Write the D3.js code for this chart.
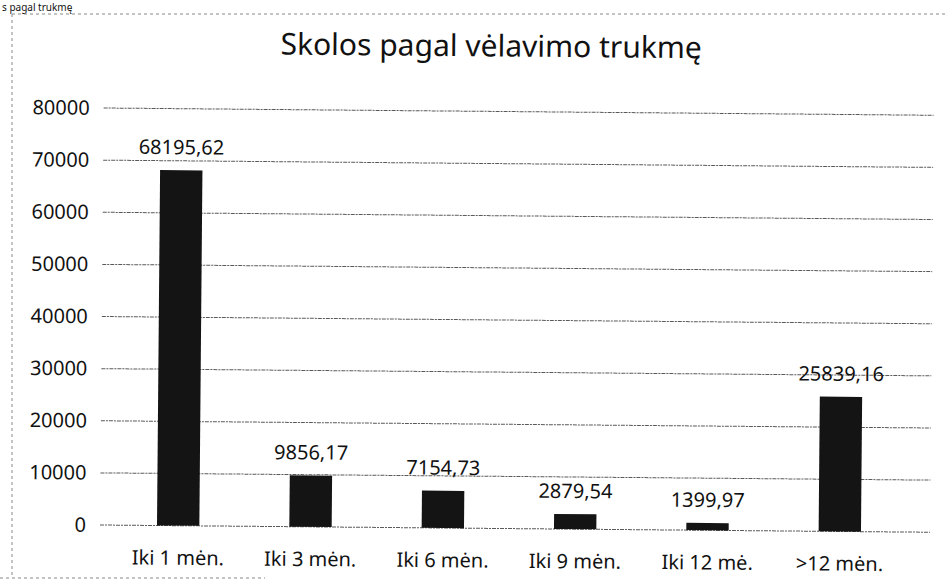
<!DOCTYPE html>
<html lang="lt">
<head>
  <meta charset="UTF-8">
  <title>Skolos pagal vėlavimo trukmę</title>
  <style>
    body { margin: 0; background: #fff; }
    svg text { font-family: "Noto Sans", "Open Sans", sans-serif; fill: #111; }
    .grid line { stroke: #5a5a5a; stroke-width: 1; stroke-dasharray: 4 1 2 1; }
    .frame { stroke: #888; stroke-width: 1; stroke-dasharray: 3 3; fill: none; }
  </style>
</head>
<body>
  <svg width="946" height="587"></svg>
  <script src="https://d3js.org/d3.v7.min.js"></script>
  <script>
const categories = ["Iki 1 mėn.", "Iki 3 mėn.", "Iki 6 mėn.", "Iki 9 mėn.", "Iki 12 mė.", ">12 mėn."];
const values = [68195.62, 9856.17, 7154.73, 2879.54, 1399.97, 25839.16];
const yTicks = [0, 10000, 20000, 30000, 40000, 50000, 60000, 70000, 80000];
const title = "Skolos pagal vėlavimo trukmę";

const svg = d3.select("svg");

// bits of the scanned page around the chart
svg.append("text")
  .attr("x", 2).attr("y", 11)
  .style("font-size", "10px")
  .text("s pagal trukmę");

svg.append("path").attr("class", "frame")
  .attr("d", "M12,14 H946 M12,14 V575 M0,578 H265");

// the scan is tilted a little, so the whole chart is too
const g = svg.append("g")
  .attr("transform", "rotate(0.5, 100, 525)");

const x = d3.scaleBand()
  .domain(categories)
  .range([112, 906])
  .paddingInner(0.68)
  .paddingOuter(0.34);

const y = d3.scaleLinear()
  .domain([0, 80000])
  .range([525, 108]);

const lt = d3.formatLocale({decimal: ",", thousands: "", grouping: [3], currency: ["", ""]});
const fmt = lt.format(".2f");

// gridlines
g.append("g").attr("class", "grid")
  .selectAll("line")
  .data(yTicks)
  .join("line")
  .attr("x1", 100).attr("x2", 930)
  .attr("y1", d => y(d)).attr("y2", d => y(d));

// y axis labels
const yAxis = d3.axisLeft(y).tickValues(yTicks).tickSize(0).tickPadding(0).tickFormat(d3.format("d"));
g.append("g")
  .attr("transform", "translate(86,0)")
  .call(yAxis)
  .call(a => a.select(".domain").remove())
  .selectAll("text")
  .style("font-size", "20px")
  .attr("fill", "#111");

// bars
g.append("g")
  .selectAll("rect")
  .data(values)
  .join("rect")
  .attr("x", (d, i) => x(categories[i]))
  .attr("width", x.bandwidth())
  .attr("y", d => y(d))
  .attr("height", d => y(0) - y(d))
  .attr("fill", "#141414");

// value labels
g.append("g")
  .selectAll("text")
  .data(values)
  .join("text")
  .attr("x", (d, i) => x(categories[i]) + x.bandwidth() / 2)
  .attr("y", d => y(d) - 16)
  .attr("text-anchor", "middle")
  .style("font-size", "20px")
  .text(d => fmt(d));

// category labels
const xAxis = d3.axisBottom(x).tickSize(0).tickPadding(0);
g.append("g")
  .attr("transform", "translate(0,550)")
  .call(xAxis)
  .call(a => a.select(".domain").remove())
  .selectAll("text")
  .attr("dy", "0.71em")
  .style("font-size", "20px")
  .attr("fill", "#111");

// title
g.append("text")
  .attr("x", 487).attr("y", 53)
  .attr("text-anchor", "middle")
  .style("font-size", "30px")
  .text(title);
  </script>
</body>
</html>
